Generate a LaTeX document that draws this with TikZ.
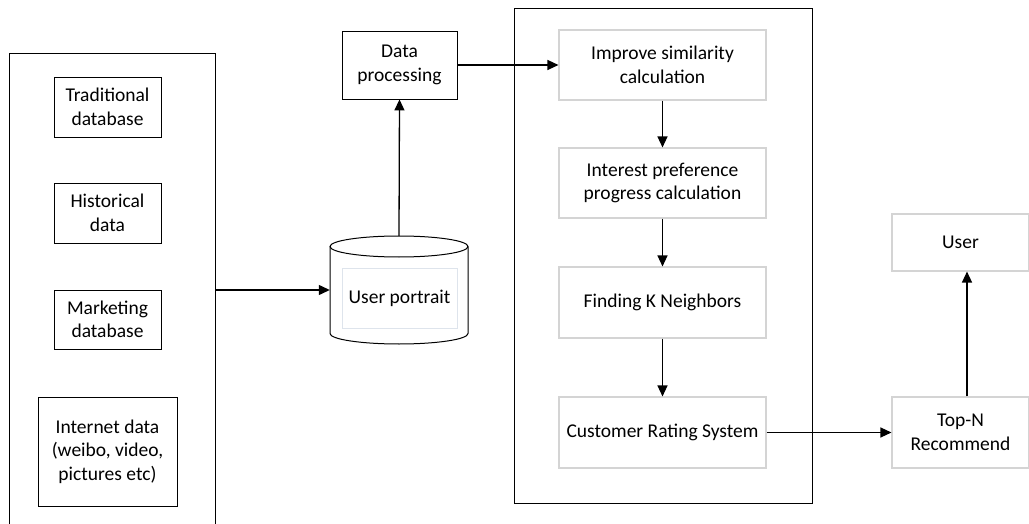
\documentclass[tikz,border=0pt]{standalone}
\usepackage{fontspec}
\setmainfont{Carlito}
\usetikzlibrary{arrows.meta}
\definecolor{softgray}{RGB}{212,212,212}
\definecolor{paleblue}{RGB}{222,228,236}
\tikzset{
  every node/.style={font=\fontsize{19.5}{23.5}\selectfont, align=center, inner sep=0pt},
  darkbox/.style={draw=black, line width=0.9pt},
  lightbox/.style={draw=softgray, line width=1.1pt},
  frame/.style={draw=black, line width=1.4pt},
  flow/.style={draw=black, line width=1.3pt, -{Triangle[length=11pt,width=10pt]}},
}
\begin{document}
\begin{tikzpicture}[x=1pt, y=-1pt]
\useasboundingbox (0,0) rectangle (1029,524);

% data sources container (runs off the lower edge)
\node[frame, minimum width=206, minimum height=507, anchor=north west] (src) at (9,53) {};
\node[darkbox, minimum width=107, minimum height=60] (trad) at (107.5,107) {Traditional\\database};
\node[darkbox, minimum width=107, minimum height=60] (hist) at (107.5,213) {Historical\\data};
\node[darkbox, minimum width=107, minimum height=59] (mark) at (107.5,319.5) {Marketing\\database};
\node[darkbox, minimum width=139, minimum height=109] (net) at (107.5,451.5) {Internet data\\(weibo, video,\\pictures etc)};

% user portrait store (cylinder)
\node[minimum width=138, minimum height=108] (cyl) at (399,290) {};
\draw[line width=1pt, fill=white] (330,246.5) -- (330,333.5)
  arc[start angle=180, end angle=0, x radius=69, y radius=10.5] -- (468,246.5);
\draw[line width=1pt] (399,246.5) ellipse[x radius=69, y radius=10.5];
\node[draw=paleblue, line width=0.8pt, minimum width=115, minimum height=60] (portrait) at (399.5,298) {User portrait};

% processing
\node[darkbox, minimum width=115, minimum height=68] (proc) at (399.5,65) {Data\\processing};

% recommendation engine container
\node[frame, minimum width=298, minimum height=495, anchor=north west] (engine) at (514,8) {};
\node[lightbox, minimum width=207, minimum height=70] (sim) at (662.5,65) {Improve similarity\\calculation};
\node[lightbox, minimum width=207, minimum height=70] (pref) at (662.5,183) {Interest preference\\progress calculation};
\node[lightbox, minimum width=207, minimum height=71] (knn) at (662.5,302.5) {Finding K Neighbors};
\node[lightbox, minimum width=207, minimum height=71] (rate) at (662.5,432.5) {Customer Rating System};

% output
\node[lightbox, minimum width=137, minimum height=71] (topn) at (960.5,432.5) {Top-N\\Recommend};
\node[lightbox, minimum width=137, minimum height=57] (user) at (960.5,242.5) {User};

% connectors
\draw[flow] (cyl.west -| src.east) -- (cyl.west);
\draw[flow] (cyl.north) -- (proc.south);
\draw[flow] (proc.east) -- (sim.west);
\draw[flow] (sim.south) -- (pref.north);
\draw[flow] (pref.south) -- (knn.north);
\draw[flow] (knn.south) -- (rate.north);
\draw[flow] (rate.east) -- (topn.west);
\draw[flow] (topn.north -| 967,0) -- (user.south -| 967,0);
\end{tikzpicture}
\end{document}
